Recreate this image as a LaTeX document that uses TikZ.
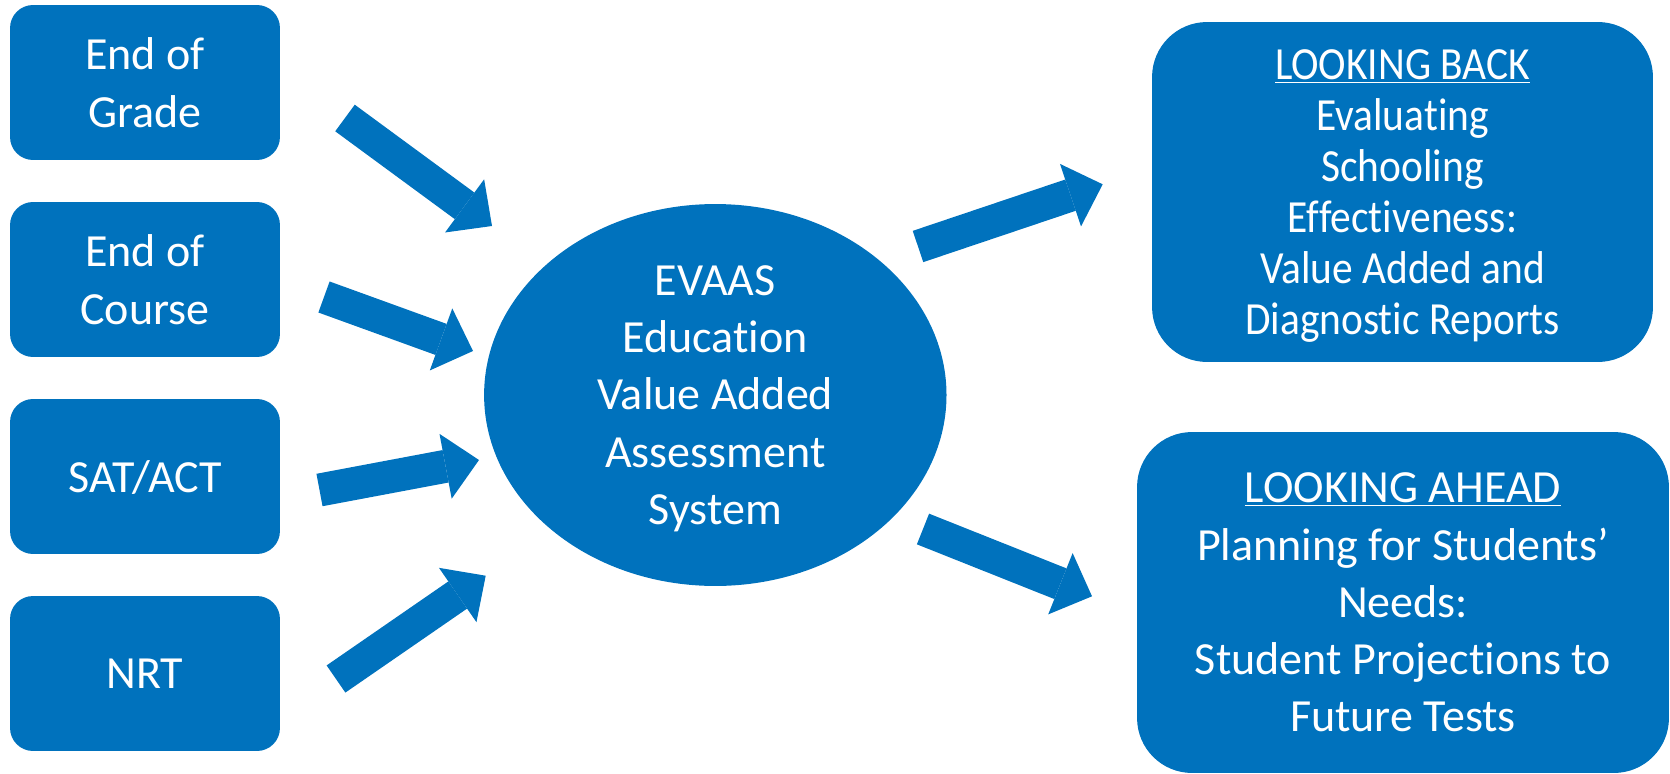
\documentclass[tikz,border=0pt]{standalone}
\usepackage{fontspec}
\setmainfont[Ligatures={NoCommon,NoContextual},Contextuals=NoAlternate]{Carlito}
\newfontfamily\narrowfont[Ligatures={NoCommon,NoContextual},Contextuals=NoAlternate,FakeStretch=0.9]{Carlito}
\usetikzlibrary{shapes.geometric,arrows.meta}
\definecolor{evblue}{RGB}{0,114,189}
\newcommand{\evtext}{\fontsize{26.2}{32.6}\selectfont}
\tikzset{
  srcbox/.style={rectangle,rounded corners=0.46cm,fill=evblue,text=white,
    minimum width=5.4cm,minimum height=3.1cm,inner sep=0pt,text depth=0pt,align=center,font=\evtext},
  outbox/.style={rectangle,rounded corners=1.1cm,fill=evblue,text=white,
    inner sep=0pt,text depth=0pt,align=center,font=\evtext},
  bigarrow/.style={evblue,line width=0.66cm,
    -{Triangle[width=1.32cm,length=0.68cm,line width=0pt]}}
}
\begin{document}
\begin{tikzpicture}[x=0.02cm,y=-0.02cm]
        \useasboundingbox (0,0) rectangle (1670,774);
        % inputs
        \node[srcbox] (grade) at (145,82.5){End of\\Grade};
        \node[srcbox] (course) at (145,279.5){End of\\Course};
        \node[srcbox] (sat) at (145,476.5){SAT/ACT};
        \node[srcbox] (nrt) at (145,673.5){NRT};
        % the model
        \node[ellipse,fill=evblue,text=white,inner sep=0pt,minimum width=9.25cm,minimum height=7.64cm,
              text depth=0pt,align=center,font=\evtext] (evaas) at (715.3,395){EVAAS\\Education\\Value Added\\Assessment\\System};
        % outputs
        \node[outbox,minimum width=10.02cm,minimum height=6.8cm,font=\narrowfont\fontsize{26.2}{29}\selectfont] (back) at (1402.5,192)
              {\underline{LOOKING BACK}\\Evaluating\\Schooling\\Effectiveness:\\Value Added and\\Diagnostic Reports};
        \node[outbox,minimum width=10.64cm,minimum height=6.82cm] (ahead) at (1403,602.5)
              {\underline{LOOKING AHEAD}\\Planning for Students’\\Needs:\\Student Projections to\\Future Tests};
        % arrow ends
        \coordinate (t1) at (345,118);   \coordinate (h1) at (492,226);
        \coordinate (t2) at (324,297);   \coordinate (h2) at (473,351);
        \coordinate (t3) at (319.5,490); \coordinate (h3) at (479,460);
        \coordinate (t4) at (336,679);   \coordinate (h4) at (485.7,575.7);
        \coordinate (t5) at (918,246.5); \coordinate (h5) at (1102.7,184.3);
        \coordinate (t6) at (923,529);   \coordinate (h6) at (1092,596.3);
        \foreach \i in {1,...,6}
            \draw[bigarrow] (t\i) -- (h\i);
        \end{tikzpicture}
\end{document}
